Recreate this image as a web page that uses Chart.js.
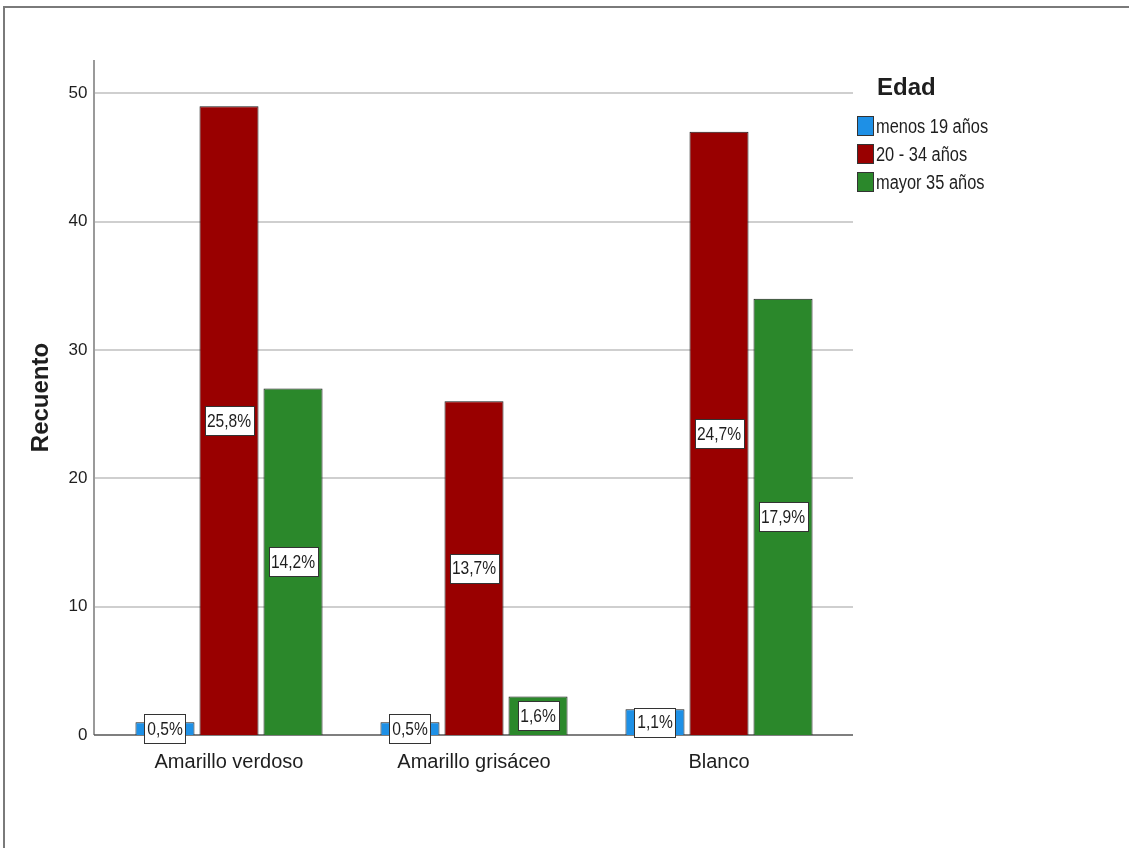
<!DOCTYPE html>
<html>
<head>
<meta charset="utf-8">
<script src="https://cdn.jsdelivr.net/npm/chart.js@4"></script>
<style>
    html, body { margin: 0; padding: 0; background: #fff; }
    #wrap { position: relative; width: 1129px; height: 848px; overflow: hidden; }
    #frame { position: absolute; left: 3px; top: 6px; right: -10px; bottom: -10px;
             border-top: 2px solid #7a7a7a; border-left: 2px solid #7a7a7a; }
    canvas { position: absolute; left: 0; top: 0; }
</style>
</head>
<body>
<div id="wrap">
    <div id="frame"></div>
    <canvas id="chart" width="1129" height="848"></canvas>
</div>
<script>
// Recuento por color y grupo de edad
const categories = ['Amarillo verdoso', 'Amarillo grisáceo', 'Blanco'];
const seriesNames = ['menos 19 años', '20 - 34 años', 'mayor 35 años'];
const menos19 = [1, 1, 2];
const de20a34 = [49, 26, 47];
const mayor35 = [27, 3, 34];
const yTicks = [0, 10, 20, 30, 40, 50];

const seriesColors = ['#1e90e6', '#990000', '#2b882b'];
const SANS = "'Liberation Sans', Arial, sans-serif";
const TEXT = '#1e1e1e';
const NARROW_X = 0.82;   // horizontal squeeze for the narrow look

const allValues = [menos19, de20a34, mayor35];
const total = allValues.flat().reduce((a, b) => a + b, 0);

function pct(v) {
    return (v / total * 100).toFixed(1).replace('.', ',') + '%';
}

// draws text squeezed horizontally around its anchor
function narrowText(ctx, txt, x, y) {
    ctx.save();
    ctx.translate(x, y);
    ctx.scale(NARROW_X, 1);
    ctx.fillText(txt, 0, 0);
    ctx.restore();
}

// gridlines and axis lines run a bit past the category area
const extendPlugin = {
    id: 'extendedGrid',
    beforeDatasetsDraw(chart) {
        const ctx = chart.ctx;
        const y = chart.scales.y;
        const area = chart.chartArea;
        const left = area.left - 12.5, right = area.right + 11.5;
        ctx.save();
        ctx.strokeStyle = '#cfcfcf';
        ctx.lineWidth = 2;
        yTicks.forEach(t => {
            if (t === 0) return;
            const py = Math.round(y.getPixelForValue(t));
            ctx.beginPath();
            ctx.moveTo(left, py);
            ctx.lineTo(right, py);
            ctx.stroke();
        });
        // y axis line
        ctx.strokeStyle = '#9a9a9a';
        ctx.lineWidth = 2;
        ctx.beginPath();
        ctx.moveTo(left, area.top);
        ctx.lineTo(left, area.bottom);
        ctx.stroke();
        // x axis line
        ctx.strokeStyle = '#555';
        ctx.lineWidth = 1.5;
        const py0 = y.getPixelForValue(0);
        ctx.beginPath();
        ctx.moveTo(left, py0);
        ctx.lineTo(right, py0);
        ctx.stroke();
        ctx.restore();
    }
};

// percentage boxes centred on each bar
const labelPlugin = {
    id: 'pctLabels',
    afterDatasetsDraw(chart) {
        const ctx = chart.ctx;
        ctx.save();
        ctx.font = '19px ' + SANS;
        ctx.textAlign = 'center';
        ctx.textBaseline = 'middle';
        chart.data.datasets.forEach((ds, di) => {
            chart.getDatasetMeta(di).data.forEach((bar, i) => {
                const txt = pct(ds.data[i]);
                const w = Math.round(ctx.measureText(txt).width * NARROW_X + 5);
                const h = 29;
                const cx = bar.x;
                const cy = (bar.y + bar.base) / 2;
                const x0 = Math.round(cx - w / 2) + 0.5;
                const y0 = Math.round(cy - h / 2) + 0.5;
                ctx.fillStyle = '#fff';
                ctx.fillRect(x0, y0, w, h);
                ctx.strokeStyle = '#333';
                ctx.lineWidth = 1;
                ctx.strokeRect(x0, y0, w, h);
                ctx.fillStyle = TEXT;
                narrowText(ctx, txt, cx, cy + 1);
            });
        });
        ctx.restore();
    }
};

// legend with title at the top right
const legendPlugin = {
    id: 'sideLegend',
    afterDraw(chart) {
        const ctx = chart.ctx;
        ctx.save();
        ctx.fillStyle = TEXT;
        ctx.font = 'bold 24px ' + SANS;
        ctx.textBaseline = 'middle';
        ctx.textAlign = 'left';
        ctx.fillText('Edad', 877, 88);
        ctx.font = '20px ' + SANS;
        chart.data.datasets.forEach((ds, i) => {
            const top = 116 + i * 28;
            ctx.fillStyle = ds.backgroundColor;
            ctx.fillRect(857.5, top + 0.5, 16, 19);
            ctx.strokeStyle = '#333';
            ctx.lineWidth = 1;
            ctx.strokeRect(857.5, top + 0.5, 16, 19);
            ctx.fillStyle = TEXT;
            narrowText(ctx, ds.label, 876, top + 11);
        });
        ctx.restore();
    }
};

new Chart(document.getElementById('chart'), {
    type: 'bar',
    data: {
        labels: categories,
        datasets: allValues.map((vals, i) => ({
            label: seriesNames[i],
            data: vals,
            backgroundColor: seriesColors[i],
            borderColor: '#1a1a1a',
            borderWidth: 1,
            categoryPercentage: 0.784,
            barPercentage: 0.922
        }))
    },
    options: {
        responsive: false,
        animation: false,
        layout: { padding: { top: 60, right: 287.5, bottom: 53, left: 0 } },
        plugins: {
            legend: { display: false },
            tooltip: { enabled: false }
        },
        scales: {
            x: {
                grid: { display: false, drawTicks: false },
                border: { display: false },
                ticks: { color: TEXT, font: { family: SANS, size: 20 }, padding: 15 },
                afterFit: s => { s.height = 60; }
            },
            y: {
                min: 0,
                max: 52.6,
                grid: { display: false, drawTicks: false },
                border: { display: false },
                ticks: {
                    stepSize: 10,
                    includeBounds: false,
                    color: TEXT,
                    font: { family: SANS, size: 17 },
                    padding: 19
                },
                title: {
                    display: true,
                    text: 'Recuento',
                    color: TEXT,
                    font: { family: SANS, size: 24, weight: 'bold' },
                    padding: { top: 27, bottom: 0 }
                },
                afterFit: s => { s.width = 106.5; }
            }
        }
    },
    plugins: [extendPlugin, labelPlugin, legendPlugin]
});
</script>
</body>
</html>
